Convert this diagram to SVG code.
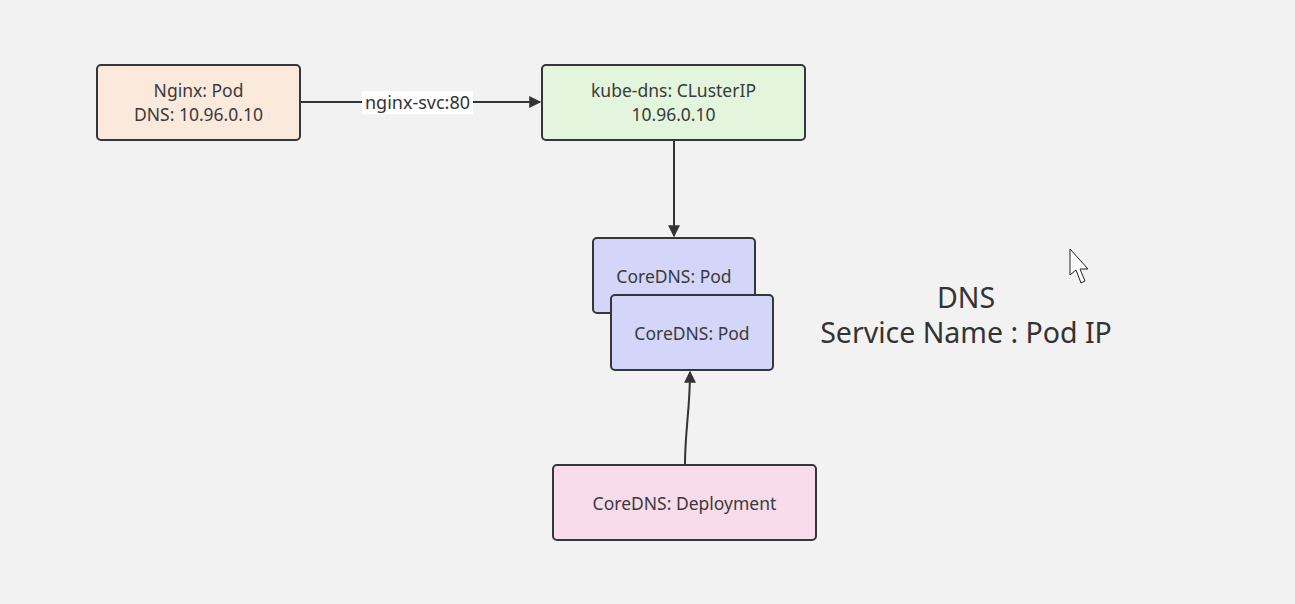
<svg xmlns="http://www.w3.org/2000/svg" width="1295" height="604" viewBox="0 0 1295 604">
<style>
.node rect{stroke:#33363b;stroke-width:2}
.t{font-family:"Noto Sans","Open Sans",sans-serif;font-size:17.5px;fill:#3a3a3a;text-anchor:middle}
.lbl{font-family:"Noto Sans","Open Sans",sans-serif;font-size:18px;fill:#333;text-anchor:middle}
.big{font-family:"Noto Sans","Open Sans",sans-serif;font-size:28.5px;fill:#333;text-anchor:middle}
.edge{fill:none;stroke:#333;stroke-width:2}
</style>
<defs>
<marker id="arrb" viewBox="0 0 10 10" refX="9" refY="5" markerWidth="15" markerHeight="12" markerUnits="userSpaceOnUse" orient="auto">
<path d="M0,0 L10,5 L0,10 z" fill="#333"/>
</marker>
</defs>
<rect width="1295" height="604" fill="#f2f2f2"/>
<g id="connectors">
<path class="edge" d="M300,102 L540,102" marker-end="url(#arrb)"/>
<rect x="362" y="91" width="111" height="23" fill="#ffffff"/>
<text class="lbl" x="417.5" y="109">nginx-svc:80</text>
<path class="edge" d="M674,140 L674,236" marker-end="url(#arrb)"/>
<path class="edge" d="M685,465 C685,430 690,410 690,372" marker-end="url(#arrb)"/>
</g>
<g id="nginx" class="node">
<rect x="97" y="65" width="203" height="75" rx="4" fill="#fbe9dc"/>
<text class="t" x="198.5" y="97">Nginx: Pod</text>
<text class="t" x="198.5" y="121">DNS: 10.96.0.10</text>
</g>
<g id="kubedns" class="node">
<rect x="542" y="65" width="263" height="75" rx="4" fill="#e3f5dc"/>
<text class="t" x="673.5" y="97">kube-dns: CLusterIP</text>
<text class="t" x="673.5" y="121">10.96.0.10</text>
</g>
<g id="pod1" class="node">
<rect x="593" y="238" width="162" height="75" rx="4" fill="#d3d6f8"/>
<text class="t" x="674" y="283">CoreDNS: Pod</text>
</g>
<g id="pod2" class="node">
<rect x="611" y="295" width="162" height="75" rx="4" fill="#d3d6f8"/>
<text class="t" x="692" y="340">CoreDNS: Pod</text>
</g>
<g id="deployment" class="node">
<rect x="553" y="465" width="263" height="75" rx="4" fill="#f9dceb"/>
<text class="t" x="684.5" y="510">CoreDNS: Deployment</text>
</g>
<g id="label">
<text class="big" x="966" y="308">DNS</text>
<text class="big" x="966" y="343">Service Name : Pod IP</text>
</g>
<path d="M1070,249 L1070,275 L1076,270 L1081,283 L1085,281 L1080,269 L1088,269 Z" fill="#ffffff" stroke="#222" stroke-width="1"/>
</svg>
